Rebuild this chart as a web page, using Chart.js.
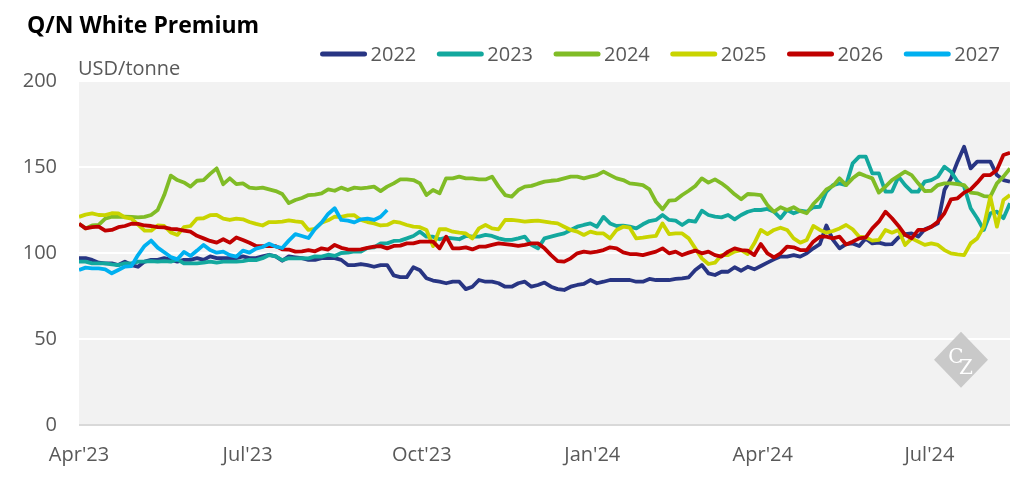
<!DOCTYPE html>
<html><head><meta charset="utf-8">
<script src="https://cdn.jsdelivr.net/npm/chart.js@4.4.1/dist/chart.umd.min.js"></script>
<style>html,body{margin:0;padding:0;background:#fff;}</style>
</head><body>
<canvas id="c" width="1026" height="485"></canvas>
<script>
const chartTitle = 'Q/N White Premium';
const unitLabel = 'USD/tonne';
const seriesNames = ['2022','2023','2024','2025','2026','2027'];
const seriesColors = ['#283583','#13a89e','#80bc26','#c9d400','#c00000','#00b0f0'];

// sample positions along the axis (days from the axis start)
const sampleDays = [0,3.5,7,10.5,14,17.5,21,24.5,28,31.5,35,38.5,42,45.5,49,52.5,56,59.5,63,66.5,70,73.5,77,80.5,84,87.5,91,94.5,98,101.5,105,108.5,112,115.5,119,122.5,126,129.5,133,136.5,140,143.5,147,150.5,154,157.5,161,
  164.5,168,171.5,175,178.5,182,185.5,189,192.5,196,199.5,203,206.5,210,213.5,217,220.5,224,227.5,231,234.5,238,241.5,245,248.5,252,255.5,259,262.5,266,269.5,273,276.5,280,283.5,287,
  290.5,294,297.5,301,304.5,308,311.5,315,318.5,322,325.5,329,332.5,336,339.5,343,346.5,350,353.5,357,360.5,364,367.5,371,374.5,378,381.5,385,388.5,392,395.5,399,402.5,406,409.5,413,416.5,
  420,423.5,427,430.5,434,437.5,441,444.5,448,451.5,455,458.5,462,465.5,469,472.5,476,479.5,483,486.5,490,493.5,497];

const tickDays = [0,90,183,274,365,454];
const tickLabels = ["Apr'23","Jul'23","Oct'23","Jan'24","Apr'24","Jul'24"];

const s2022 = [97,97,96,94.4,94,94,93,95,93,92,95,96,96,97,96,95,96,96,97,96,98,97,97,97,97,98,97,97,98,99,98,95.5,98,97.5,97,96,96,97,97,97,96,93,93,93.6,93,92,93,
  93,87,86,86,91.7,90,85.3,84,83.3,82.4,83.3,83.3,79,80.4,84.3,83.3,83.3,82.4,80.4,80.4,82.4,83.3,80.4,81.4,82.8,80.4,79,78.5,80.4,81.4,82,84.3,82.4,83.3,84.3,84.3,
  84.3,84.3,83.3,83.3,84.9,84.3,84.3,84.3,84.9,85.3,85.9,90.1,93,88.2,87.2,89.1,89.1,91.7,89.7,92,90.5,92.4,94.4,96.3,97.9,97.9,98.8,97.9,99.8,102.7,105.2,116,107.6,102.7,105.2,105.6,104.1,
  108.5,105.6,106,105,105.2,109.1,111,111.4,109.5,113.8,115.3,117.2,136.6,143.4,153.1,161.8,149.2,153.1,153.1,153.1,145.3,142.4,141.5];
const s2023 = [95,95,94,94,94,93.4,93,94,94,95,95,95.3,95,95.3,95,96.3,94,94,94,94.4,95,94.4,95,95,95,95.3,96,95.9,97,98.8,98,95.9,97,96.9,97,96.9,98,97.9,99,98.3,100,100.2,101,100.8,103,103.3,105.6,
  105.6,107,107.2,108.5,109.9,112.4,109.5,109.5,108,109,108.5,108,109.9,109.5,109.5,110.5,109.9,108.5,107.6,107.6,108.5,109.5,104.7,102.7,108.5,109.5,110.5,111.4,113.4,115.3,116.3,117.2,115.3,121,117.2,115.7,
  115.9,115.3,114.3,116.7,118.6,119.2,122.1,119.2,118.8,116.3,118.8,118.2,124.6,122.1,121.1,120.7,122.1,119.6,122.1,124,125,125,125.6,124,120.2,125,123.1,124.6,124,126.6,126.9,135.7,139.5,140.5,139.5,152.1,156,
  156,146.3,146.3,135.7,135.7,144.4,139.5,135.7,135.7,141.5,142.4,144.4,150.2,147.3,141.5,138.6,126,120.2,113.4,123.1,124,120.2,128.9];
const s2024 = [117,114.3,116,116.3,120,121.1,121,121.1,121,120.7,121,122.1,125,133.7,145,142.4,141,138.6,142,142.4,146,149.2,140,143.4,140,140.5,138,137.6,138,137,136,134.3,129,130.8,132,133.7,134,134.7,137,136.2,138,136.6,138,137.6,138,138.6,136,
  138.6,140.5,142.8,142.8,142.4,140.5,133.7,136.6,134.7,143.4,143.4,144.4,143.4,143.4,142.8,142.8,144.4,138.6,133.7,132.8,136.6,138.6,139,140.3,141.5,142,142.4,143.4,144.4,144.4,143.4,144.4,145.3,147.3,145.3,143.4,
  142.4,140.5,140.1,139.5,137,129.8,125.4,130.4,130.8,133.7,136.2,139,143.4,140.9,142.8,140.5,137.6,134.1,131.2,134.3,134.1,133.7,127.9,124,126.6,125,126.6,124.4,123.1,128.5,132.4,137,139,143.4,139.5,143.4,146.3,
  144.8,143.4,135.1,138.6,142.4,144.8,147.3,145.3,140.5,136,136.2,139.5,140.5,140.5,140.1,139.5,135.1,134.7,133.1,132.8,140.5,144.4,149.2];
const s2025 = [121,122.3,123,122.1,122,123.1,123,120.7,120,116.5,113,113,116,115.7,112,110.5,115,115.7,120,120.2,122,122.1,120,119.2,120,119.6,118,116.9,116,118,118,118.2,119,118.4,118,113.4,114,117.6,119,121.1,121,121.9,122,119.2,118,117.2,116,
  116.3,118.2,117.6,116.3,115.3,115,113.4,104,113.8,113.8,112.4,111.8,111.4,108.5,114.3,116.3,114.3,113.8,119.2,119.2,118.8,118.2,118.6,118.8,118.2,117.6,117.2,115.3,113.4,112.4,110.5,112.4,111.4,111.4,108.5,113.4,
  115.3,114.7,108.5,108.9,109.5,109.9,117.2,111,111.4,111.4,108.5,102.7,96.9,93.6,94.4,98.8,98.8,100.8,101.7,99.4,105.6,113.4,111,113.4,114.7,113.4,108.5,106,107.6,115.7,113.4,111.8,112.8,114.3,116.3,113.8,109.5,
  109.1,107.2,107.6,113.4,111.8,113.4,104.7,108.5,106.6,104.7,105.6,104.7,101.7,99.8,99.2,98.8,105.6,108.5,115.3,132.8,115.3,130.8,133.7];
const s2026 = [117,114.3,115,115.3,113,113.4,115,115.7,117,116.9,116,115.7,115,114.9,114,113.8,113,112.4,110,108.5,107,106,108,106,109,107.6,106,104.1,104,104.1,104,102.1,102,100.8,101,101.7,101,102.7,102,104.7,103,102.1,102,102.1,103,103.7,104,
  102.7,104.1,104.3,105.6,105.6,106.6,106.6,106.6,102.7,109.5,102.7,102.7,103.3,102.1,103.7,103.7,104.7,105.6,105.2,104.7,104.1,104.7,105.6,105.6,102.7,98.8,95.3,95,96.9,99.8,100.8,100.2,100.8,101.7,103.3,102.7,
  100.4,99.4,99.4,98.8,99.8,100.8,102.7,99.8,100.8,98.8,100.2,101.4,99.8,100.8,98.8,97.9,100.8,102.7,101.7,101.4,98.8,105.2,99.8,97.5,99.8,103.7,103.3,101.7,101.7,106.6,109.5,109.5,108.5,109.5,105,106.6,108.5,
  109.1,114.3,118.2,124,120.2,115.7,110.5,108.5,113.4,113.4,115.3,118.2,123.1,131.2,131.8,135.1,137,140.9,145.3,145.3,148.3,157,158.3];
const s2027 = [90.1,91.5,91.1,91.1,90.5,88.2,90.1,92.1,92.4,98.8,104.1,107.2,103.1,100.4,97.7,96.3,100.6,98.3,101.4,104.7,101.7,100.2,100.8,98.8,97.9,101.4,100.2,102.5,103.5,105.4,103.7,102.9,107.2,111,109.9,108.7,114,117.6,122.7,126,119.2,118.8,117.8,119.6,120,119.2,121.1,
  125];

const seriesValues = [s2022,s2023,s2024,s2025,s2026,s2027];

Chart.defaults.font.family = '"Open Sans", sans-serif';
Chart.defaults.font.size = 20;
Chart.defaults.color = '#595959';

const plotBg = {
  id: 'plotBg',
  beforeDraw(chart) {
    const a = chart.chartArea, ctx = chart.ctx;
    ctx.save();
    ctx.fillStyle = '#f2f2f2';
    ctx.fillRect(a.left, a.top, a.right - a.left, a.bottom - a.top);
    ctx.restore();
  },
  beforeDatasetsDraw(chart) {
    const a = chart.chartArea, ctx = chart.ctx;
    const cx = a.right - 49, cy = chart.scales.y.getPixelForValue(38);
    ctx.save();
    ctx.fillStyle = '#c9c9c9';
    ctx.beginPath();
    ctx.moveTo(cx, cy - 28); ctx.lineTo(cx + 27, cy); ctx.lineTo(cx, cy + 28); ctx.lineTo(cx - 27, cy);
    ctx.closePath(); ctx.fill();
    ctx.fillStyle = '#ffffff';
    ctx.font = '20px "DejaVu Serif", serif';
    ctx.textAlign = 'center'; ctx.textBaseline = 'alphabetic';
    ctx.fillText('C', cx - 5, cy + 3);
    ctx.fillText('Z', cx + 5, cy + 14);
    ctx.restore();
  }
};

const overlay = {
  id: 'overlay',
  afterDraw(chart) {
    const ctx = chart.ctx, a = chart.chartArea;
    ctx.save();
    ctx.textAlign = 'left'; ctx.textBaseline = 'alphabetic';
    ctx.fillStyle = '#000';
    ctx.font = 'bold 23px "Open Sans", sans-serif';
    ctx.fillText(chartTitle, 27, 33);
    ctx.fillStyle = '#595959';
    ctx.font = '20px "Open Sans", sans-serif';
    ctx.fillText(unitLabel, a.left - 1, a.top - 6);
    const items = chart.data.datasets.map(d => ({t: d.label, c: d.borderColor, w: ctx.measureText(d.label).width}));
    const lineLen = 46, gapT = 4, gapI = 21;
    const total = items.reduce((s, i) => s + lineLen + gapT + i.w, 0) + gapI * (items.length - 1);
    let x = 1000 - total;
    const ly = 54;
    items.forEach(it => {
      ctx.strokeStyle = it.c; ctx.lineWidth = 5; ctx.lineCap = 'round';
      ctx.beginPath(); ctx.moveTo(x + 2, ly); ctx.lineTo(x + lineLen - 2, ly); ctx.stroke();
      ctx.fillText(it.t, x + lineLen + gapT, 61);
      x += lineLen + gapT + it.w + gapI;
    });
    ctx.restore();
  }
};

const datasets = seriesNames.map((name, i) => ({
  label: name,
  data: seriesValues[i].map((v, k) => ({x: sampleDays[k], y: v})),
  borderColor: seriesColors[i],
  backgroundColor: seriesColors[i],
  borderWidth: 3.8,
  borderJoinStyle: 'round',
  pointRadius: 0,
  tension: 0,
  fill: false,
  order: seriesNames.length - i
}));

new Chart(document.getElementById('c'), {
  type: 'line',
  data: {datasets},
  options: {
    responsive: false,
    animation: false,
    devicePixelRatio: 1,
    layout: {padding: {left: 0, right: 16, top: 81, bottom: 0}},
    plugins: {legend: {display: false}, title: {display: false}, tooltip: {enabled: false}},
    scales: {
      x: {
        type: 'linear', min: 0, max: 497,
        grid: {display: false, drawTicks: false},
        border: {display: false},
        afterBuildTicks: s => { s.ticks = tickDays.map(v => ({value: v})); },
        afterFit: s => { s.height = 60; },
        ticks: {
          padding: 18, maxRotation: 0, autoSkip: false,
          callback: v => tickLabels[tickDays.indexOf(v)]
        }
      },
      y: {
        min: 0, max: 200,
        afterFit: s => { s.width = 79; },
        grid: {
          drawTicks: false,
          color: c => c.tick && c.tick.value === 0 ? '#d9d9d9' : '#ffffff',
          lineWidth: 2
        },
        border: {display: false},
        ticks: {stepSize: 50, padding: 22}
      }
    }
  },
  plugins: [plotBg, overlay]
});
</script>
</body></html>
